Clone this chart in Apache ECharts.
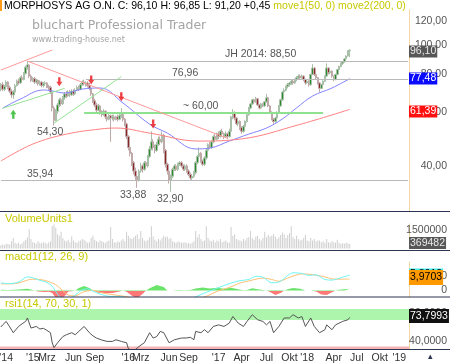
<!DOCTYPE html>
<html>
<head>
<meta charset="utf-8">
<script src="https://cdn.jsdelivr.net/npm/echarts@6/dist/echarts.min.js"></script>
<style>
  html, body { margin: 0; padding: 0; background: #fff; }
  #chart { width: 450px; height: 363px; }
</style>
</head>
<body>
<div id="chart"></div>
<script>
// weekly candles: [open, close, low, high]
const candles = [
  [72,74,70.5,75],[74,71.5,70.5,75.5],[71.5,73,70.5,74],[73,75.5,72,76.5],[75.5,72.5,71.5,76],
  [72.5,70.5,69.5,73.5],[70.5,68.5,67,71.5],[68.5,70,66.5,71],[70,73.5,69.5,74.5],[73.5,76,73,77],
  [76,75,74,77.5],[75,78,74.5,79],[78,77,76,79.5],[77,80.5,76.5,81.5],[80.5,84.5,80,85.5],
  [84.5,86,83,88.5],[86,79,78,86.5],[79,76.5,75.5,80],[76.5,77.5,75.5,78.5],[77.5,75.5,74.5,78.5],
  [75.5,76.5,74.5,77.5],[76.5,74.5,73.5,77],[74.5,75.5,73.5,76.5],[75.5,73.5,72.5,76],[73.5,74.5,72.5,75.5],
  [74.5,75,73.5,76],[75,73,72,75.5],[73,72.5,71,74],[72.5,70,69,73.5],[70,62,60.5,70.5],
  [62,56.5,54.3,63],[56.5,60.5,56,61.5],[60.5,63.5,59.5,64.5],[63.5,66,62.5,67],[66,64,63,67],
  [64,67,63.5,68],[67,69,66,70],[69,68,67,70.5],[68,70,67.5,71],[70,68.5,67.5,71],
  [68.5,70.5,68,71.5],[70.5,69,68,71.5],[69,71,68.5,72],[71,72.5,70.5,73.5],[72.5,71.5,70.5,73.5],
  [71.5,74,71,75],[74,75.5,73.5,76.5],[75.5,74.5,73.5,76.96],[74.5,75,73,76],[75,73.5,72.5,76],
  [73.5,72,71,75],[72,69,68,73],[69,65.5,64.5,69.5],[65.5,63.5,62.5,66.5],[63.5,61,60,64.5],
  [61,63,60.5,64],[63,60,59,63.5],[60,59,58,61],[59,60.5,58.5,61.5],[60.5,58,57,61],
  [58,57,56,59],[57,58.5,56.5,59.5],[58.5,57.5,48,59],[57.5,58,56.5,59],[58,57,56,59],
  [57,58,56.5,58.5],[58,57,56,59],[57,58.5,56.5,59.5],[58.5,59,57.5,62],[59,57,56,59.5],
  [57,55,54,57.5],[55,50,49,55.5],[50,46,45,50.5],[46,44,43,47],[44,41,40,44.5],
  [41,38.5,37.5,41.5],[38.5,37,36,39.5],[37,36,33.88,37.5],[36,38.5,35.5,39],[38.5,40,38,41],
  [40,39,38,40.5],[39,41,38.5,41.5],[41,40,39,41.5],[40,43,39.5,43.5],[43,45.5,42.5,46.5],
  [45.5,48,45,52],[48,46,45,49],[46,45,44,47],[45,47,44.5,48],[47,49,46.5,50],
  [49,48,47,50],[48,50.5,47.5,52],[50.5,45,44,51],[45,40.5,39.5,45.5],[40.5,38.5,37.5,41],
  [38.5,36,35,39],[36,37,32.9,37.5],[37,39,36.5,39.5],[39,40,38.5,40.5],[40,39,38.5,40.5],
  [39,40.5,38.5,41],[40.5,41,40,41.5],[41,40,39.5,41.5],[40,39,38.5,40.5],[39,40,38.5,40.5],
  [40,38.5,38,40.5],[38.5,37.5,37,39],[37.5,36.5,36,38],[36.5,37,36,37.5],[37,38,36.5,38.5],
  [38,41,37.5,41.5],[41,43,40.5,43.5],[43,44,42.5,46],[44,41.5,41,44.5],[41.5,40.5,40,42],
  [40.5,42.5,40,43],[42.5,45,42,45.5],[45,47,44.5,47.5],[47,46,45.5,48],[46,48,45.5,48.5],
  [48,50,47.5,50.5],[50,49,48.5,51],[49,51,48.5,51.5],[51,50,49,52],[50,52,49.5,52.5],
  [52,51,50,53],[51,50,49,51.5],[50,51,49.5,52],[51,50,49,51.5],[50,52,49.5,53],
  [52,58,51.5,58.5],[58,60,57,61.5],[60,57.5,56.5,60.5],[57.5,55,54.5,58],[55,56,54,57],
  [56,53.5,52.5,56.5],[53.5,52,51,54],[52,54,51.5,54.5],[54,56,53.5,56.5],[56,59,55.5,59.5],
  [59,62,58.5,62.5],[62,64,61.5,64.5],[64,66,63.5,66.5],[66,65,64,66.5],[65,66.5,64.5,67.5],
  [66.5,63.5,63,67],[63.5,62,61.5,64],[62,64,61.5,64.5],[64,63,62.5,64.5],[63,65,62.5,65.5],
  [65,67,64.5,69],[67,63,62.5,67.5],[63,60,59.5,63.5],[60,57,56.5,60.5],[57,56,55,57.5],
  [56,57.5,55.5,58],[57.5,60,57,60.5],[60,63,59.5,63.5],[63,66,62.5,66.5],[66,70,65.5,70.5],
  [70,71,69,72],[71,73,70.5,73.5],[73,74,72,75],[74,75,73,75.5],[75,76,74,77],
  [76,75,74,77],[75,77,74.5,77.5],[77,78,76,79],[78,79,77,80],[79,78,77,80],
  [78,79,77.5,80],[79,77,76,79.5],[77,75,74,77.5],[75,76,74.5,77],[76,74,73,76.5],
  [74,80,73.5,80.5],[80,84,79.5,86.5],[84,80,79,84.5],[80,78,77,80.5],[78,75,74,78.5],
  [75,72,70,75.5],[72,74,71.5,74.5],[74,76,73.5,76.5],[76,79,75.5,79.5],[79,84,78.5,87],
  [84,81,80,84.5],[81,82,80,83],[82,79,78,82.5],[79,77,76,79.5],[77,80,76.5,80.5],
  [80,83,79.5,83.5],[83,85,82.5,85.5],[85,87,84.5,87.5],[87,88,86,88.5],[88,90,87.5,90.5],
  [90,92,89,92.5],[92,95.65,91.5,96],[95.65,96.1,91.2,96.85]
];

// weekly volume in thousands of units
const volumes = [
  260,330,290,390,360,330, 590,850,460, 390,460,330,420,590,720, 910,1560,780,
  520,460,390,590,460,420,520,460,390,490,590, 1820,1950,1690,1170,
  1040,1370,850,650,590,720, 520,980,650,520,460,590,650,780,720, 590,460,520,850,1040,
  720,590,520,650,590,520,460,590,650, 1760, 780,520,460,590,520,650,780,590,
  1370,1040,850,780,910,1040,1170, 780,1430,850,650,590,720,910,
  1820,980,720,590,780,650,850,1040, 910,980,780,850,
  590,520,460,590,520,490,460,520,420,460,390,460,590, 1430,910,1170,780,
  590,650,1820,850,650,590,720,520,650,590,780,520,590,650,520,460,
  1760,1040,1170,780,720,650, 590,780,650,850,910,1430,850,720,980,1040,
  780,650,850,1370,910,1100,980, 1040,1170,980,780,910,1100,1300,1170,
  850,1100,1240,1820,910,780,1040,780,650,720, 850,1100,650,590,850,650,780,590,650,650,
  520,590,460,780,520,460,590,520,460,720, 460,390,420,390,460,420,369.482
];

// moving averages [week, price]
const ma50 = [[1,62.0],[11,66.4],[24,71.1],[29,70.6],[36,69.5],[46,71.6],[56,72.2],[69,64.4],
  [84,54.9],[94,51.3],[110,45.5],[118,45.8],[129,48.3],[140,50.9],[150,53.3],[159,57.1],
  [167,62.1],[176,67.9],[187,72.2],[197,77.48]];
const ma200 = [[0,41.5],[18,47.2],[37,50.9],[56,52.9],[65,53.3],[84,51.3],[112,48.3],
  [136,49.1],[168,54.6],[197,61.39]];

// MACD(12,26,9) [week, value]
const macdLine = [[0,2.6],[5,2.4],[10,2.9],[15,4.7],[18,4.4],[22,3.5],[26,2.8],[29,1.5],[31,-0.3],
  [34,-2.5],[38,-3],[42,-1.5],[46,0.3],[49,0.6],[52,-0.2],[56,-1.2],[62,-2],[68,-2],[72,-3.5],
  [78,-7],[85,-6],[91,-4.5],[96,-6],[104,-5],[110,-2.2],[116,-0.6],[122,0.8],[130,2.6],[135,3.4],
  [140,3.8],[144,4.9],[148,4.6],[153,2.7],[157,2.9],[162,5.2],[165,6.1],[170,5.9],[174,5.2],
  [178,5.4],[183,3.8],[187,3.6],[192,4.4],[197,5.3]];
const signalLine = [[0,2.3],[5,2.3],[10,2.6],[15,3.6],[18,3.9],[22,3.8],[26,3.3],[29,2.6],[31,2.0],
  [34,0.5],[38,-1.5],[42,-1.8],[46,-0.6],[49,-0.1],[52,0.1],[56,-0.6],[62,-1.3],[68,-1.8],[72,-2.3],
  [78,-4.5],[85,-6.3],[91,-5.5],[96,-5.4],[104,-5.2],[110,-3.6],[116,-2],[122,-0.3],[130,1.3],
  [135,2.6],[140,3.3],[144,3.9],[148,4.3],[153,3.8],[157,3.2],[162,4.3],[165,5.0],[170,5.7],
  [174,5.6],[178,5.3],[183,4.7],[187,4.0],[192,3.9],[197,3.9703]];
const macdHist = [[0,0.3],[4,0.2],[8,0.3],[12,0.5],[15,0.6],[18,0.2],[19,0],[21,-0.3],[25,-0.5],
  [27,-0.4],[29,-0.8],[31,-2.5],[35,-2.6],[37,-1.2],[38,-0.3],[40,-0.2],[42,0],[44,0.9],[47,1.6],
  [50,0.9],[52,0],[55,-0.7],[59,-0.9],[63,-0.8],[67,-0.3],[69,0],[71,-0.4],[74,-1.8],[77,-2.6],
  [80,-1.2],[82,0],[84,0.8],[88,1.9],[92,1.2],[94,0],[95,-0.4],[97,0],[100,0.2],[104,0.1],
  [107,0.2],[110,0.7],[114,1.1],[118,0.7],[122,1.0],[126,0.6],[130,1.0],[134,0.5],[137,0.1],
  [139,0.2],[142,0.8],[145,0.5],[148,0.2],[150,0],[152,-0.5],[155,-1.5],[158,-0.8],[160,0],
  [162,0.5],[165,0.9],[169,0.6],[172,0],[173,-0.4],[175,0],[176,0.1],[178,-0.3],[181,-1.3],
  [184,-1.5],[187,-0.6],[189,0],[191,0.3],[194,0.5],[197,0.6]];

// RSI(14) [week, value]
const rsiLine = [[0,60],[1,63],[3,68],[5,60],[7,51.6],[10,60.7],[12,64.6],[14,68],[15,73],[17,58.4],
  [20,60.7],[22,57],[24,58],[26,55],[28,51.6],[29,37],[30,30],[32,37],[35,46],[37,48.7],[40,51.6],
  [42,48.7],[44,53.5],[47,60.7],[50,51.6],[52,47],[54,43.9],[57,41],[60,39],[63,39],[65,41.4],
  [68,39],[71,37],[72,28.4],[75,25],[78,31.7],[81,37],[84,51.6],[86,43.9],[88,46],[90,53.5],
  [92,51.6],[95,37],[98,41.4],[102,43.9],[105,44],[107,45],[109,41.4],[110,53.5],[113,51.6],
  [115,56],[117,51.6],[120,60.7],[123,63],[126,60.7],[129,65.6],[131,75.2],[134,65.6],[137,60.7],
  [139,68],[142,77.7],[145,70.4],[148,68],[150,63],[152,68],[154,51.6],[157,60.7],[160,73],
  [163,73],[165,77.7],[168,73],[170,75],[172,60.7],[175,73],[177,60.7],[180,51.6],[183,56],
  [184,63],[187,56],[189,63],[193,68],[196,70.4],[197,73.7993]];

// chart annotations
const levels = [
  { value: 88.5, from: 16, to: 230, color: '#b9b9b9', width: 1 },
  { value: 76.96, from: 48, to: 230, color: '#b9b9b9', width: 1 },
  { value: 35.94, from: 0, to: 230, color: '#b9b9b9', width: 1 },
  { value: 60, from: 47, to: 182, color: '#8fe08f', width: 2 }
];
const trendLines = [
  { from: [0, 82.7], to: [29, 96.3], color: '#ff9a9a' },
  { from: [15, 88.5], to: [128, 49.3], color: '#ff9a9a' },
  { from: [1, 61.9], to: [36, 72.0], color: '#95e395' },
  { from: [30, 55.3], to: [68, 78.7], color: '#95e395' }
];
const signals = [[33, 75.7, 'down'], [51, 76.7, 'down'], [68, 67.6, 'down'], [86, 55.0, 'down'], [7, 59.2, 'up']];

const priceTicks = [40, 60, 80, 100, 120];
const priceRange = [28.43, 130.36];
const weekCount = 231;
const xLabels = [[3, "'14"], [18, "'15"], [26, 'Mrz'], [41, 'Jun'], [53, 'Sep'], [72, "'16"], [79, 'Mrz'],
  [95, 'Jun'], [106, 'Sep'], [123, "'17"], [136, 'Apr'], [150, 'Jul'], [163, 'Okt'], [173, "'18"],
  [188, 'Apr'], [201, 'Jul'], [214, 'Okt'], [225, "'19"]];

const categories = [];
for (let i = 0; i < weekCount; i++) categories.push(String(i));

const FONT = '"Liberation Sans", Arial, sans-serif';
const comma = (v, d) => v.toFixed(d).replace('.', ',');
const LN = Math.log;

const grids = [
  { left: 0, right: 40, top: 10, height: 201 },
  { left: 0, right: 40, top: 224, height: 24.5 },
  { left: 0, right: 40, top: 262, height: 35 },
  { left: 0, right: 40, top: 309, height: 40 }
];

const xAxes = grids.map((g, k) => ({
  type: 'category', gridIndex: k, data: categories, boundaryGap: true,
  axisLine: { show: false }, axisTick: { show: false }, axisLabel: { show: false }
}));

const rightAxis = (k, extra, labelVals, fmt) => Object.assign({
  type: 'value', gridIndex: k, position: 'right', scale: true,
  splitLine: { show: false },
  axisLine: { show: true, lineStyle: { color: '#f2cf8e', type: 'dotted' } },
  axisTick: { show: false },
  axisLabel: { customValues: labelVals, formatter: fmt, align: 'right', margin: 38,
    color: '#555', fontSize: 10.5, fontFamily: FONT }
}, extra);

const yAxes = [
  rightAxis(0, { min: LN(priceRange[0]), max: LN(priceRange[1]) }, priceTicks.map(LN), v => comma(Math.exp(v), 2)),
  rightAxis(1, { min: 0, max: 2000000 }, [1500000], v => String(Math.round(v))),
  rightAxis(2, { min: -2.2, max: 9.8 }, [0, 5], v => v === 0 ? '0' : comma(v, 4)),
  rightAxis(3, { min: 28, max: 86 }, [40, 80], v => comma(v, 4))
];

const lnPairs = arr => arr.map(([i, p]) => [i, LN(p)]);

const markLines = levels.map(l => [
  { coord: [l.from, LN(l.value)], lineStyle: { color: l.color, width: l.width, type: 'solid' } },
  { coord: [l.to, LN(l.value)] }
]).concat(trendLines.map(t => [
  { coord: [t.from[0], LN(t.from[1])], lineStyle: { color: t.color, width: 1, type: 'solid' } },
  { coord: [t.to[0], LN(t.to[1])] }
]));

const arrowDown = 'path://M3,0 L7,0 L7,5 L10,5 L5,10 L0,5 L3,5 Z';
const arrowUp = 'path://M5,0 L10,5 L7,5 L7,10 L3,10 L3,5 L0,5 Z';

const series = [
  {
    type: 'candlestick', xAxisIndex: 0, yAxisIndex: 0, barWidth: 2,
    data: candles.map(r => r.map(LN)),
    itemStyle: { color: '#2a8a2a', color0: '#8b2424', borderColor: '#a9bfa9', borderColor0: '#bfa9a9', borderWidth: 1 },
    markLine: { silent: true, symbol: 'none', label: { show: false }, data: markLines }
  },
  { type: 'line', xAxisIndex: 0, yAxisIndex: 0, data: lnPairs(ma50), smooth: 0.4, symbol: 'none',
    lineStyle: { color: '#8484ff', width: 1 } },
  { type: 'line', xAxisIndex: 0, yAxisIndex: 0, data: lnPairs(ma200), smooth: 0.4, symbol: 'none',
    lineStyle: { color: '#ff8080', width: 1 } },
  { type: 'scatter', xAxisIndex: 0, yAxisIndex: 0, symbolSize: [6, 9], z: 5,
    data: signals.map(([i, p, d]) => ({ value: [i, LN(p)], symbol: d === 'down' ? arrowDown : arrowUp,
      itemStyle: { color: d === 'down' ? '#e8141a' : '#22b422' } })) },
  { type: 'bar', xAxisIndex: 1, yAxisIndex: 1, data: volumes.map(v => v * 1000), barWidth: 1,
    itemStyle: { color: '#cfcfcf' } },
  { type: 'line', xAxisIndex: 2, yAxisIndex: 2, data: macdHist, symbol: 'none',
    lineStyle: { width: 0 }, areaStyle: { opacity: 1 } },
  { type: 'line', xAxisIndex: 2, yAxisIndex: 2, data: signalLine, symbol: 'none', smooth: 0.3,
    lineStyle: { color: '#ffbf73', width: 1 } },
  { type: 'line', xAxisIndex: 2, yAxisIndex: 2, data: macdLine, symbol: 'none', smooth: 0.3,
    lineStyle: { color: '#6ff4f4', width: 1 } },
  { type: 'line', xAxisIndex: 3, yAxisIndex: 3, data: rsiLine, symbol: 'none',
    lineStyle: { color: '#555', width: 1 },
    markArea: { silent: true, data: [
      [{ yAxis: 70, itemStyle: { color: '#adf5ad' } }, { yAxis: 86 }],
      [{ yAxis: 28, itemStyle: { color: '#f6b4b4' } }, { yAxis: 31.5 }]
    ] } }
];

const txt = (x, y, text, extra) => ({ type: 'text', x, y, z: 100,
  style: Object.assign({ text, font: '10.5px ' + FONT, fill: '#555', verticalAlign: 'middle' }, extra) });
const box = (y, text, bg, fg) => txt(409, y, text, { backgroundColor: bg, fill: fg, padding: [1, 1, 0, 1] });
const sep = y => ({ type: 'line', z: 90, shape: { x1: 0, y1: y, x2: 450, y2: y },
  style: { stroke: '#2c3552', lineWidth: 1.2 } });

const graphic = [
  { type: 'rect', z: 100, shape: { x: 0, y: 0, width: 2, height: 11 }, style: { fill: '#ff9a1a' } },
  txt(4, 6, '{a|MORPHOSYS AG O.N. C: 96,10 H: 96,85 L: 91,20 +0,45} {b|move1(50, 0) move2(200, 0)}', {
    rich: { a: { font: '10.5px ' + FONT, fill: '#000' }, b: { font: '10.5px ' + FONT, fill: '#c8c800' } } }),
  txt(32, 26, 'bluchart Professional Trader', { font: '12.5px "DejaVu Sans", sans-serif', fill: '#a5a5a5' }),
  txt(32, 40, 'www.trading-house.net', { font: '8px "DejaVu Sans", sans-serif', fill: '#a5a5a5' }),
  txt(225, 54, 'JH 2014: 88,50'),
  txt(172, 73, '76,96'),
  txt(183, 106, '~ 60,00'),
  txt(37, 132, '54,30'),
  txt(27, 174, '35,94'),
  txt(120, 195, '33,88'),
  txt(157, 199, '32,90'),
  box(51.5, '96,10', '#575757', '#e8e8e8'),
  box(78.5, '77,48', '#0a0aff', '#ffffff'),
  box(111.5, '61,39', '#ff1010', '#ffffff'),
  txt(5, 219, 'VolumeUnits1', { fill: '#c8c800', font: '11px ' + FONT }),
  box(243, '369482', '#575757', '#e8e8e8'),
  txt(5, 257, 'macd1(12, 26, 9)', { fill: '#c8c800', font: '11px ' + FONT }),
  box(274.5, '5,3012', '#3ff0f0', '#000'),
  txt(409, 277.5, '3,9703', { backgroundColor: '#ff9900', fill: '#000', padding: [2, 1, 2, 1] }),
  txt(5, 304, 'rsi1(14, 70, 30, 1)', { fill: '#c8c800', font: '11px ' + FONT }),
  txt(409, 316, '73,7993', { backgroundColor: '#111', fill: '#fff', padding: [2, 1, 1, 1] }),
  sep(211.5), sep(250.5), sep(297), sep(349.5),
  txt(428, 357, '\u25B4', { fill: '#2c3552', font: '9px ' + FONT })
];

const chart = echarts.init(document.getElementById('chart'), null, { renderer: 'canvas' });
chart.setOption({
  animation: false,
  backgroundColor: '#fff',
  grid: grids,
  xAxis: xAxes,
  yAxis: yAxes,
  visualMap: [{ type: 'piecewise', show: false, seriesIndex: 5, dimension: 1,
    pieces: [{ min: -50, max: 0, color: '#ff7878' }, { min: 0, max: 50, color: '#6ce46c' }] }],
  series,
  graphic
});

// month/year labels placed through the bottom axis scale
const dateLabels = xLabels.map(([idx, label], n) => {
  const px = chart.convertToPixel({ xAxisIndex: 3 }, idx);
  return Object.assign(txt(px, 358, label, { align: 'center', fill: '#333' }), { id: 'date' + n, z: 200 });
});
chart.setOption({ graphic: graphic.concat(dateLabels) });
</script>
</body>
</html>
